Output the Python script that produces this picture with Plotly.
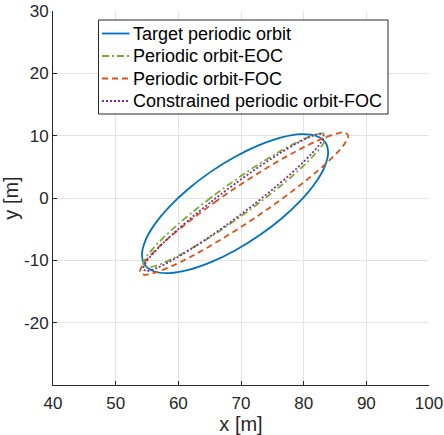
import plotly.graph_objects as go

names = ["Target periodic orbit", "Periodic orbit-EOC", "Periodic orbit-FOC",
         "Constrained periodic orbit-FOC"]

target_x = [69.05, 65.21, 61.63, 58.55, 56.19, 54.71, 54.20, 54.71, 56.19, 58.55, 61.63, 65.21,
            69.05, 72.89, 76.48, 79.55, 81.91, 83.39, 83.90, 83.39, 81.91, 79.55, 76.48, 72.89, 69.05]
target_y = [6.62, 4.23, 1.49, -1.41, -4.27, -6.91, -9.13, -10.80, -11.79, -12.04, -11.53, -10.29,
            -8.42, -6.03, -3.29, -0.40, 2.47, 5.11, 7.33, 9.00, 9.99, 10.24, 9.73, 8.49, 6.62]

eoc_x = [69.00, 65.22, 61.70, 58.68, 56.36, 54.90, 54.40, 54.90, 56.36, 58.68, 61.70, 65.22,
         69.00, 72.78, 76.30, 79.32, 81.64, 83.10, 83.60, 83.10, 81.64, 79.32, 76.30, 72.78, 69.00]
eoc_y = [2.83, 0.07, -2.73, -5.36, -7.66, -9.46, -10.65, -11.14, -10.89, -9.93, -8.33, -6.18,
         -3.63, -0.87, 1.93, 4.56, 6.86, 8.66, 9.85, 10.34, 10.09, 9.13, 7.53, 5.38, 2.83]

foc_x = [70.50, 66.20, 62.20, 58.76, 56.12, 54.47, 53.90, 54.47, 56.12, 58.76, 62.20, 66.20,
         70.50, 74.80, 78.80, 82.24, 84.88, 86.53, 87.10, 86.53, 84.88, 82.24, 78.80, 74.80, 70.50]
foc_y = [2.53, -0.40, -3.37, -6.16, -8.60, -10.51, -11.77, -12.29, -12.03, -11.01, -9.31, -7.03,
         -4.33, -1.40, 1.57, 4.36, 6.80, 8.71, 9.97, 10.49, 10.23, 9.21, 7.51, 5.23, 2.53]

cfoc_x = [68.80, 65.07, 61.60, 58.62, 56.33, 54.89, 54.40, 54.89, 56.33, 58.62, 61.60, 65.07,
          68.80, 72.53, 76.00, 78.98, 81.27, 82.71, 83.20, 82.71, 81.27, 78.98, 76.00, 72.53, 68.80]
cfoc_y = [2.11, -0.74, -3.59, -6.23, -8.51, -10.25, -11.34, -11.70, -11.32, -10.21, -8.45, -6.17,
          -3.51, -0.66, 2.19, 4.83, 7.11, 8.85, 9.94, 10.30, 9.92, 8.81, 7.05, 4.77, 2.11]

x_ticks = [40, 50, 60, 70, 80, 90, 100]
x_ticktext = ["40", "50", "60", "70", "80", "90", "100"]
y_ticks = [-20, -10, 0, 10, 20, 30]
y_ticktext = ["-20", "-10", "0", "10", "20", "30"]

colors = ["#0072BD", "#77AC30", "#D95319", "#7E2F8E"]
dashes = ["solid", "7px,3px,2px,3px", "6px,4px", "2px,2px"]
xs_all = [target_x, eoc_x, foc_x, cfoc_x]
ys_all = [target_y, eoc_y, foc_y, cfoc_y]

W, H = 444, 435
ML, MR, MT, MB = 53, 15, 11, 50
PW, PH = W - ML - MR, H - MT - MB


def px2paper_x(px):
    return (px - ML) / PW


def px2paper_y(py):
    return (H - MB - py) / PH


fig = go.Figure()
for name, xs, ys, col, dash in zip(names, xs_all, ys_all, colors, dashes):
    fig.add_trace(go.Scatter(x=xs, y=ys, mode="lines", name=name, showlegend=False,
                             line=dict(color=col, width=1.8, dash=dash, shape="spline")))

# Legend (MATLAB style box) drawn with shapes + text annotations
LEG_L, LEG_R, LEG_T, LEG_B = 98.5, 388, 20, 114
ROW0, ROW_STEP = 33.5, 22.5
SAMPLE_L, SAMPLE_R, TEXT_L = 102, 129.5, 131
shapes = [dict(type="rect", xref="paper", yref="paper",
               x0=px2paper_x(LEG_L), x1=px2paper_x(LEG_R),
               y0=px2paper_y(LEG_B), y1=px2paper_y(LEG_T),
               line=dict(color="#262626", width=1), fillcolor="white", layer="above")]
annotations = []
for i, (name, col, dash) in enumerate(zip(names, colors, dashes)):
    yy = px2paper_y(ROW0 + i * ROW_STEP)
    shapes.append(dict(type="line", xref="paper", yref="paper",
                       x0=px2paper_x(SAMPLE_L), x1=px2paper_x(SAMPLE_R), y0=yy, y1=yy,
                       line=dict(color=col, width=1.8, dash=dash), layer="above"))
    annotations.append(dict(text=name, xref="paper", yref="paper", x=px2paper_x(TEXT_L), y=yy,
                            xanchor="left", yanchor="middle", showarrow=False,
                            font=dict(family="Liberation Sans, Arial, sans-serif", size=18,
                                      color="black")))

axis_font = dict(family="Liberation Sans, Arial, sans-serif", size=17, color="#262626")
fig.update_layout(
    width=W, height=H,
    margin=dict(l=ML, r=MR, t=MT, b=MB),
    paper_bgcolor="white", plot_bgcolor="white",
    font=axis_font,
    showlegend=False,
    shapes=shapes,
    annotations=annotations,
)
fig.update_xaxes(range=[40, 100], tickvals=x_ticks, ticktext=x_ticktext, ticks="inside", ticklen=4,
                 tickcolor="#262626", showline=True, linecolor="#262626", linewidth=1,
                 showgrid=True, gridcolor="#e3e3e3", zeroline=False, automargin=False,
                 ticklabelstandoff=3,
                 title=dict(text="x [m]", standoff=0), tickfont=axis_font)
fig.update_yaxes(range=[-30, 30], tickvals=y_ticks, ticktext=y_ticktext, ticks="inside", ticklen=4,
                 tickcolor="#262626", showline=True, linecolor="#262626", linewidth=1,
                 showgrid=True, gridcolor="#e3e3e3", zeroline=False, automargin=False,
                 title=dict(text="y [m]", standoff=0), tickfont=axis_font)

fig.write_html("out.html")
